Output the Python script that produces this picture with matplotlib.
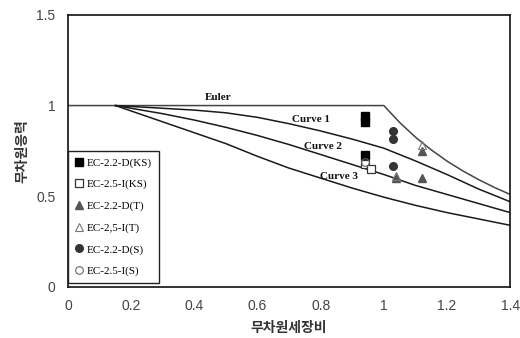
import matplotlib
matplotlib.use("Agg")
import matplotlib.pyplot as plt

# ---- data ----
lam = [0.15, 0.2, 0.3, 0.4, 0.5, 0.6, 0.7, 0.8, 0.9, 1.0, 1.1, 1.2, 1.3, 1.4]
lam_euler = [0.0, 0.15, 0.5, 1.0, 1.05, 1.1, 1.15, 1.2, 1.25, 1.3, 1.35, 1.4]
euler = [1.0, 1.0, 1.0, 1.0, 0.907, 0.826, 0.756, 0.694, 0.640, 0.592, 0.549, 0.510]
curve1 = [1.0, 0.995, 0.985, 0.975, 0.96, 0.935, 0.90, 0.86, 0.815, 0.765, 0.695, 0.62, 0.54, 0.47]
curve2 = [1.0, 0.985, 0.955, 0.92, 0.88, 0.835, 0.785, 0.73, 0.675, 0.62, 0.56, 0.51, 0.46, 0.41]
curve3 = [1.0, 0.97, 0.91, 0.85, 0.79, 0.72, 0.655, 0.60, 0.545, 0.495, 0.45, 0.41, 0.375, 0.34]

ks_d_x = [0.94, 0.94, 0.94]
ks_d_y = [0.945, 0.907, 0.73]
ks_i_x = [0.94, 0.96]
ks_i_y = [0.68, 0.65]
t_d_x = [1.04, 1.12, 1.12]
t_d_y = [0.60, 0.60, 0.75]
t_i_x = [1.04, 1.12]
t_i_y = [0.61, 0.78]
s_d_x = [1.03, 1.03, 1.03]
s_d_y = [0.858, 0.814, 0.667]
s_i_x = [0.94]
s_i_y = [0.69]

series_labels = ["EC-2.2-D(KS)", "EC-2.5-I(KS)", "EC-2.2-D(T)",
                 "EC-2,5-I(T)", "EC-2.2-D(S)", "EC-2.5-I(S)"]
curve_labels = ["Euler", "Curve 1", "Curve 2", "Curve 3"]
xticks = [0, 0.2, 0.4, 0.6, 0.8, 1.0, 1.2, 1.4]
xtick_labels = ["0", "0.2", "0.4", "0.6", "0.8", "1", "1.2", "1.4"]
yticks = [0, 0.5, 1.0, 1.5]
ytick_labels = ["0", "0.5", "1", "1.5"]

plt.rcParams['font.family'] = ['Liberation Sans', 'Noto Sans CJK KR', 'DejaVu Sans']

fig = plt.figure(figsize=(5.2, 3.38), dpi=100)
ax = fig.add_axes([0.131, 0.151, 0.850, 0.805])

lc = '#1a1a1a'
ax.plot(lam_euler, euler, color='#444444', lw=1.1)
ax.plot(lam, curve1, color=lc, lw=1.1)
ax.plot(lam, curve2, color=lc, lw=1.1)
ax.plot(lam, curve3, color=lc, lw=1.1)

ms = 5.5
ax.plot(ks_d_x, ks_d_y, 's', color='black', ms=ms, label=series_labels[0])
ax.plot(ks_i_x, ks_i_y, 's', mfc='white', mec='#333333', mew=0.9, ms=ms, label=series_labels[1])
ax.plot(t_d_x, t_d_y, '^', color='#555555', ms=ms, label=series_labels[2])
ax.plot(t_i_x, t_i_y, '^', mfc='none', mec='#777777', mew=0.8, ms=ms, label=series_labels[3])
ax.plot(s_d_x, s_d_y, 'o', color='#333333', ms=ms, label=series_labels[4])
ax.plot(s_i_x, s_i_y, 'o', mfc='none', mec='#666666', mew=0.8, ms=ms, label=series_labels[5])

serif = ['Liberation Serif', 'DejaVu Serif']
label_pos = [(0.476, 1.045), (0.768, 0.923), (0.806, 0.776), (0.857, 0.607)]
for txt, (x, y) in zip(curve_labels, label_pos):
    ax.text(x, y, txt, family=serif, fontweight='bold', fontsize=8,
            ha='center', va='center', color='#111111')

ax.set_xlim(0, 1.4)
ax.set_ylim(0, 1.5)
ax.set_xticks(xticks)
ax.set_xticklabels(xtick_labels)
ax.set_yticks(yticks)
ax.set_yticklabels(ytick_labels)
ax.tick_params(length=0, labelsize=10, labelcolor='#444444', pad=9)
for s in ax.spines.values():
    s.set_linewidth(1.2)
    s.set_color('#111111')

ax.set_xlabel("무차원세장비", fontsize=10, fontweight='bold', color='#333333', labelpad=5)
ax.set_ylabel("무차원응력", fontsize=10, fontweight='bold', color='#333333', labelpad=5)

leg = ax.legend(loc='lower left', bbox_to_anchor=(0.0, 0.015), borderaxespad=0,
                fancybox=False, edgecolor='#222222', framealpha=1,
                prop={'family': serif, 'size': 8}, handlelength=0.8,
                handletextpad=0.3, labelspacing=1.05, borderpad=0.6)
leg.get_frame().set_linewidth(1.0)

fig.savefig("out.png", dpi=100)
